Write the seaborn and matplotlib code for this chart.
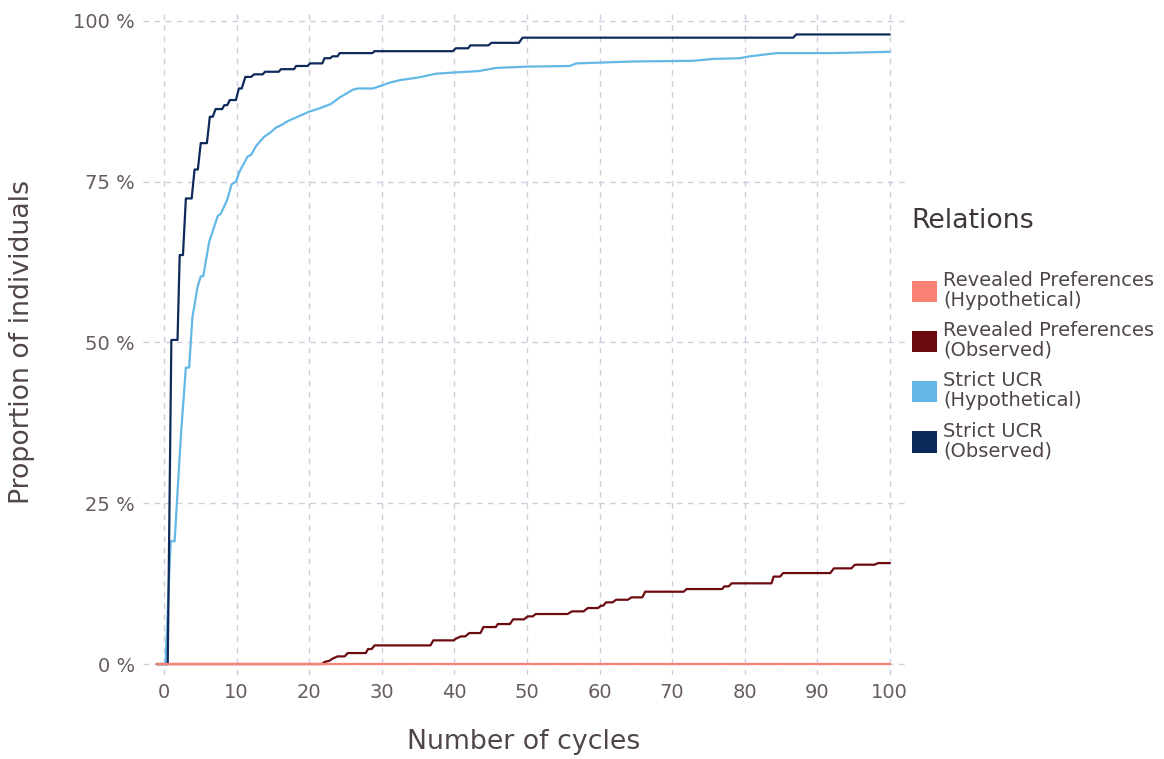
import matplotlib
matplotlib.use("Agg")
import matplotlib.pyplot as plt
from matplotlib.patches import Patch
from matplotlib.ticker import FuncFormatter
import pandas as pd
import seaborn as sns

# ---------------- data ----------------
relations = [
    "Revealed Preferences\n(Hypothetical)",
    "Revealed Preferences\n(Observed)",
    "Strict UCR\n(Hypothetical)",
    "Strict UCR\n(Observed)",
]
colors = ["#FA8274", "#6B0B10", "#63B8E6", "#0E2A5A"]

rp_hyp_x = [-1, 100]
rp_hyp_y = [0, 0]

rp_obs_x = [-1, 21.75, 22.1, 22.8, 23.2, 23.9, 24.9, 25.3, 27.8, 28.1, 28.6, 29.0,
            36.7, 37.1, 39.9, 40.2, 40.9, 41.5, 42.05, 43.6, 44.0, 45.7, 46.0, 47.65,
            48.1, 49.6, 50.1, 50.8, 51.2, 55.6, 56.2, 57.8, 58.4, 59.8, 60.2, 60.5,
            60.9, 61.8, 62.3, 63.9, 64.4, 65.9, 66.3, 71.6, 72.0, 76.9, 77.2, 77.8,
            78.2, 83.7, 84.0, 84.9, 85.3, 91.8, 92.3, 94.7, 95.2, 97.9, 98.4, 100]
rp_obs_y = [0, 0, 0.31, 0.52, 0.83, 1.19, 1.19, 1.71, 1.71, 2.33, 2.33, 2.9,
            2.9, 3.68, 3.68, 3.94, 4.3, 4.3, 4.82, 4.82, 5.75, 5.75, 6.22, 6.22,
            6.95, 6.95, 7.41, 7.41, 7.78, 7.78, 8.19, 8.19, 8.71, 8.71, 9.07, 9.07,
            9.59, 9.59, 10.0, 10.0, 10.37, 10.37, 11.25, 11.25, 11.66, 11.66, 12.08, 12.08,
            12.55, 12.55, 13.6, 13.6, 14.15, 14.15, 14.88, 14.88, 15.45, 15.45, 15.7, 15.7]

ucr_hyp_x = [-1, 0.2, 0.9, 1.45, 2.3, 3.0, 3.45, 3.9, 4.6, 5.05, 5.4, 6.2, 7.4, 7.8,
             8.7, 9.3, 9.9, 10.4, 11.5, 12.0, 12.7, 13.8, 14.7, 15.4, 16.3, 17.0, 18.4,
             20.0, 21.4, 23.0, 24.2, 26.0, 26.7, 28.8, 31.1, 32.5, 35.0, 37.5, 40.1,
             43.3, 45.8, 50.0, 55.9, 56.8, 64.6, 72.9, 75.7, 79.3, 80.7, 84.4, 92.2, 100]
ucr_hyp_y = [0, 0, 19.1, 19.1, 35.3, 46.1, 46.1, 53.9, 58.6, 60.3, 60.3, 65.6, 69.7, 70.0,
             72.2, 74.6, 75.0, 76.6, 78.9, 79.2, 80.6, 82.0, 82.7, 83.4, 83.9, 84.4, 85.1,
             85.9, 86.4, 87.1, 88.1, 89.3, 89.5, 89.5, 90.4, 90.8, 91.2, 91.8, 92.0,
             92.2, 92.7, 92.9, 93.0, 93.4, 93.7, 93.8, 94.1, 94.2, 94.5, 95.0, 95.0, 95.2]

ucr_obs_x = [-1, 0.5, 1.0, 1.85, 2.15, 2.6, 3.0, 3.8, 4.2, 4.65, 5.05, 5.9, 6.3, 6.7,
             7.1, 8.0, 8.3, 8.7, 9.05, 9.9, 10.3, 10.7, 11.2, 12.0, 12.4, 13.6, 13.9,
             15.8, 16.1, 17.9, 18.2, 19.8, 20.1, 21.8, 22.1, 22.9, 23.2, 23.9, 24.2,
             28.7, 29.0, 39.8, 40.2, 41.9, 42.2, 44.7, 45.1, 48.9, 49.4, 86.7, 87.1, 100]
ucr_obs_y = [0, 0, 50.4, 50.4, 63.6, 63.6, 72.4, 72.4, 76.9, 76.9, 81.0, 81.0, 85.1, 85.1,
             86.3, 86.3, 86.9, 86.9, 87.7, 87.7, 89.5, 89.5, 91.3, 91.3, 91.7, 91.7, 92.1,
             92.1, 92.5, 92.5, 93.0, 93.0, 93.4, 93.4, 94.2, 94.2, 94.5, 94.5, 95.0,
             95.0, 95.3, 95.3, 95.75, 95.75, 96.2, 96.2, 96.6, 96.6, 97.4, 97.4, 97.9, 97.9]

x_ticks = [0, 10, 20, 30, 40, 50, 60, 70, 80, 90, 100]
y_ticks = [0, 25, 50, 75, 100]

# ---------------- frame ----------------
series = [(rp_hyp_x, rp_hyp_y), (rp_obs_x, rp_obs_y), (ucr_hyp_x, ucr_hyp_y), (ucr_obs_x, ucr_obs_y)]
frames = []
for rel, (xs, ys) in zip(relations, series):
    frames.append(pd.DataFrame({"cycles": xs, "prop": ys, "Relations": rel}))
df = pd.concat(frames, ignore_index=True)

# ---------------- plot ----------------
sns.set_theme(style="white")
plt.rcParams["font.family"] = ["DejaVu Sans"]

fig = plt.figure(figsize=(11.64, 7.59), dpi=100)
ax = fig.add_axes([0.1229, 0.1107, 0.6546, 0.8761])

draw_order = [relations[1], relations[2], relations[3], relations[0]]
sns.lineplot(data=df, x="cycles", y="prop", hue="Relations", hue_order=draw_order,
             palette=dict(zip(relations, colors)), estimator=None, sort=False,
             linewidth=1.6, ax=ax, legend=False)

ax.set_xlim(-2.9, 102.1)
ax.set_ylim(-1.7, 101.7)
ax.set_xticks(x_ticks)
ax.set_yticks(y_ticks)
ax.yaxis.set_major_formatter(FuncFormatter(lambda v, p: f"{v:.0f} %"))

tick_col = "#665b62"
title_col = "#4f454b"
ax.tick_params(axis="both", length=0, labelsize=14, labelcolor=tick_col, pad=6)
ax.grid(True, linestyle=(0, (4, 4)), color="#cdcde0", linewidth=1.0)
ax.set_axisbelow(True)
for s in ax.spines.values():
    s.set_visible(False)

ax.set_xlabel("Number of cycles", fontsize=19.3, color=title_col, labelpad=19)
ax.set_ylabel("Proportion of individuals", fontsize=19.3, color=title_col, labelpad=27)

# legend
handles = [Patch(facecolor=c, edgecolor="none") for c in colors]
leg = fig.legend(handles, relations, loc="upper left",
                 bbox_to_anchor=(912 / 1164, 1 - 271 / 759),
                 frameon=False, fontsize=14, handlelength=1.3, handleheight=1.3,
                 handletextpad=0.3, labelspacing=0.59, borderpad=0, borderaxespad=0)
for t in leg.get_texts():
    t.set_color(title_col)
    t.set_linespacing(1.05)
fig.text(911 / 1164, 1 - 221 / 759, "Relations", fontsize=19.3, color="#3f363b",
         ha="left", va="center")

fig.savefig("out.png", dpi=100)
